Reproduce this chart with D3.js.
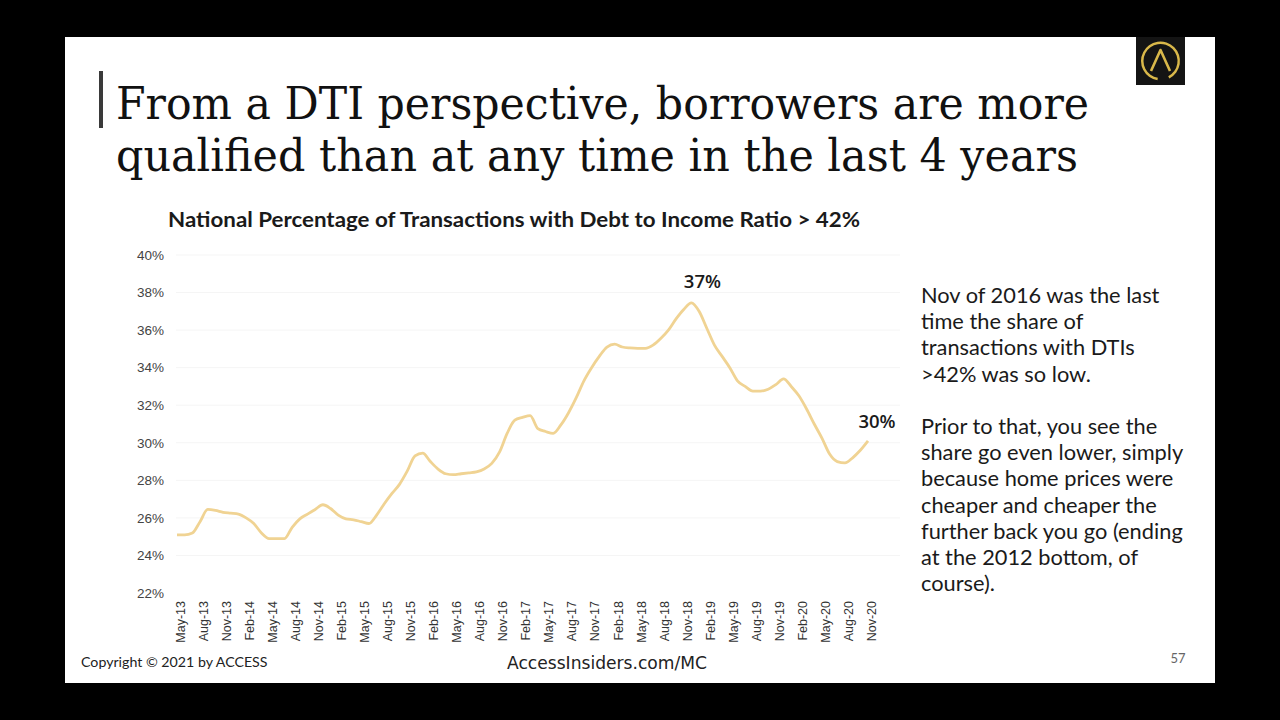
<!DOCTYPE html>
<html>
<head>
<meta charset="utf-8">
<script src="https://cdn.jsdelivr.net/npm/d3@7"></script>
<style>
  html, body { margin: 0; padding: 0; background: #000; }
  svg { display: block; }
</style>
</head>
<body>
<svg id="chart" width="1280" height="720"></svg>
<script>
// ---- Data ----
const monthNames = ["Jan","Feb","Mar","Apr","May","Jun","Jul","Aug","Sep","Oct","Nov","Dec"];
// Monthly share (%) of transactions with DTI > 42%, May-13 .. Nov-20
const values = [
  25.1, 25.1, 25.2, 25.8, 26.45, 26.4, 26.3, 26.25, 26.2, 26.0,
  25.7, 25.2, 24.9, 24.9, 24.9, 25.5, 25.95, 26.2, 26.45, 26.7,
  26.5, 26.15, 25.95, 25.9, 25.8, 25.7, 26.15, 26.75, 27.3, 27.8,
  28.5, 29.3, 29.45, 29.0, 28.6, 28.35, 28.3, 28.35, 28.4, 28.45,
  28.6, 28.9, 29.5, 30.5, 31.2, 31.35, 31.45, 30.75, 30.6, 30.5,
  30.95, 31.6, 32.4, 33.3, 34.0, 34.6, 35.1, 35.25, 35.1, 35.05,
  35.03, 35.03, 35.2, 35.55, 36.0, 36.6, 37.1, 37.45, 37.0, 36.1,
  35.2, 34.6, 34.0, 33.3, 33.0, 32.75, 32.75, 32.85, 33.1, 33.4,
  33.0, 32.5, 31.8, 31.0, 30.25, 29.4, 29.0, 28.93, 29.2, 29.6,
  30.1
];
// Month labels generated from start month May 2013
const months = values.map((v, i) => {
  const m = (4 + i) % 12;
  const y = 13 + Math.floor((4 + i) / 12);
  return monthNames[m] + "-" + y;
});
const tickLabels = months.filter((d, i) => i % 3 === 0);
const yTicks = [22, 24, 26, 28, 30, 32, 34, 36, 38, 40];
const annotations = [
  { label: "37%", month: "Dec-18", dx: 11, dy: -15 },
  { label: "30%", month: "Nov-20", dx: 9, dy: -13 }
];
const titleLines = ["From a DTI perspective, borrowers are more",
                    "qualified than at any time in the last 4 years"];
const chartTitle = "National Percentage of Transactions with Debt to Income Ratio > 42%";
const sideText = [
  "Nov of 2016 was the last", "time the share of", "transactions with DTIs", ">42% was so low.",
  "", "Prior to that, you see the", "share go even lower, simply", "because home prices were",
  "cheaper and cheaper the", "further back you go (ending", "at the 2012 bottom, of", "course)."
];

// ---- Drawing ----
const svg = d3.select("#chart");
svg.append("rect").attr("x", 0).attr("y", 0).attr("width", 1280).attr("height", 720).attr("fill", "#000");
svg.append("rect").attr("x", 65).attr("y", 37).attr("width", 1150).attr("height", 646).attr("fill", "#fff");

// Title bar + title
svg.append("rect").attr("x", 99).attr("y", 71).attr("width", 4).attr("height", 57).attr("fill", "#3a3a3a");
const titleWidths = [973, 962];
titleLines.forEach((t, i) => {
  svg.append("text")
    .attr("x", 116).attr("y", 119 + i * 52)
    .attr("font-family", "'DejaVu Serif', 'Liberation Serif', serif")
    .attr("font-size", 45)
    .attr("fill", "#111")
    .attr("textLength", titleWidths[i])
    .attr("lengthAdjust", "spacingAndGlyphs")
    .text(t);
});

// Logo
const logo = svg.append("g").attr("transform", "translate(1136,37)");
logo.append("rect").attr("width", 49).attr("height", 48).attr("fill", "#141414");
logo.append("path")
  .attr("d", d3.arc()({ innerRadius: 17, outerRadius: 19.5, startAngle: Math.PI * 1.05, endAngle: Math.PI * 2.85 }))
  .attr("transform", "translate(24.5,24)")
  .attr("fill", "#d9b84a");
logo.append("path")
  .attr("d", "M15,34 L24.5,13 L34,34")
  .attr("fill", "none").attr("stroke", "#d9b84a").attr("stroke-width", 2.6).attr("stroke-linejoin", "round");

// Chart title
svg.append("text")
  .attr("x", 168).attr("y", 227)
  .attr("font-family", "Lato, 'Open Sans', sans-serif")
  .attr("font-weight", "bold")
  .attr("font-size", 20.5)
  .attr("fill", "#1a1a1a")
  .attr("textLength", 692)
  .attr("lengthAdjust", "spacingAndGlyphs")
  .text(chartTitle);

// Scales
const x = d3.scalePoint().domain(months).range([177, 868]);
const y = d3.scaleLinear().domain([22, 40]).range([593, 255]);

// Gridlines
svg.append("g").selectAll("line").data(yTicks.filter(d => d > 22)).join("line")
  .attr("x1", 176).attr("x2", 900)
  .attr("y1", d => y(d)).attr("y2", d => y(d))
  .attr("stroke", "#f5f5f5").attr("stroke-width", 1);

// Y axis
const yAxis = svg.append("g").attr("transform", "translate(164,0)")
  .call(d3.axisLeft(y).tickValues(yTicks).tickFormat(d => d + "%").tickSize(0).tickPadding(0));
yAxis.select(".domain").remove();
yAxis.selectAll("text")
  .attr("font-family", "'Liberation Sans', Arial, sans-serif")
  .attr("font-size", 13.5).attr("fill", "#444");

// X axis
const xAxis = svg.append("g").attr("transform", "translate(0,597)")
  .call(d3.axisBottom(x).tickValues(tickLabels).tickSize(0).tickPadding(0));
xAxis.select(".domain").remove();
xAxis.selectAll("text")
  .attr("font-family", "'Liberation Sans', Arial, sans-serif")
  .attr("font-size", 12.5).attr("fill", "#333")
  .attr("text-anchor", "end")
  .attr("dy", "0.35em")
  .attr("transform", "translate(3,4) rotate(-90)")
  .attr("x", 0).attr("y", 0);

// Line
const line = d3.line().x((d, i) => x(months[i])).y(d => y(d)).curve(d3.curveMonotoneX);
svg.append("path").datum(values)
  .attr("d", line)
  .attr("fill", "none")
  .attr("stroke", "#f0d393")
  .attr("stroke-width", 2.8)
  .attr("stroke-linejoin", "round");

// Annotations
annotations.forEach(a => {
  const i = months.indexOf(a.month);
  svg.append("text")
    .attr("x", x(a.month) + a.dx).attr("y", y(values[i]) + a.dy)
    .attr("text-anchor", "middle")
    .attr("font-family", "'Open Sans', Lato, sans-serif")
    .attr("font-weight", 600)
    .attr("font-size", 18.5)
    .attr("fill", "#1a1a1a")
    .text(a.label);
});

// Side text
const side = svg.append("text")
  .attr("font-family", "Lato, 'Open Sans', sans-serif")
  .attr("font-size", 21.8)
  .attr("fill", "#1a1a1a");
sideText.forEach((t, i) => {
  side.append("tspan").attr("x", 921).attr("y", 303 + i * 26.2).text(t === "" ? "\u00a0" : t);
});

// Footer
svg.append("text").attr("x", 81).attr("y", 667)
  .attr("font-family", "Lato, sans-serif").attr("font-size", 14.2).attr("fill", "#222")
  .text("Copyright \u00a9 2021 by ACCESS");
svg.append("text").attr("x", 507).attr("y", 669)
  .attr("font-family", "'DejaVu Sans', sans-serif").attr("font-size", 18).attr("fill", "#222")
  .attr("textLength", 200).attr("lengthAdjust", "spacingAndGlyphs")
  .text("AccessInsiders.com/MC");
svg.append("text").attr("x", 1178).attr("y", 663).attr("text-anchor", "middle")
  .attr("font-family", "Lato, sans-serif").attr("font-size", 13).attr("fill", "#666")
  .text("57");
</script>
</body>
</html>
